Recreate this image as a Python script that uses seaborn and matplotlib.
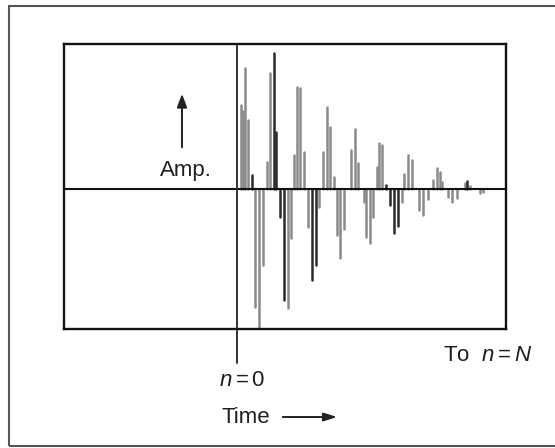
"""Decaying impulse response sketch (stem style)"""

import pandas as pd
import seaborn as sns
from matplotlib import pyplot as plt
from matplotlib.patches import Rectangle

# sample index (n) and amplitude of each stem
sample_n = [1.0, 1.5, 2.0, 2.75, 3.7, 4.5, 5.5, 6.4, 7.4, 8.25, 9.25, 9.75,
            10.75, 11.75, 12.7, 13.5, 14.25, 14.9, 15.75, 16.75, 17.75, 18.75,
            19.75, 20.5, 21.4, 22.4, 23.25, 24.25, 24.9, 25.75, 26.75, 28.4,
            29.5, 30.2, 31.7, 32.25, 33.2, 33.9, 34.9, 35.5, 36.25, 37.25,
            38.25, 39.25, 40.25, 41.2, 41.75, 42.7, 43.7, 45.5, 46.5, 47.75,
            48.9, 49.9, 50.75, 51.2, 52.75, 53.7, 54.9, 57.0, 57.5, 58.25,
            60.75, 61.5]
amplitude = [84, 78, 121, 69, 14, -118, -139, -76, 27, 116, 136, 57,
             -28, -111, -119, -49, 34, 102, 101, 37, -38, -91,
             -76, -18, 37, 82, 62, 12, -46, -69, -40, 39,
             60, 26, -13, -48, -54, -28, 22, 46, 44, 4,
             -16, -44, -37, -13, 15, 34, 29, -21, -26, -10,
             9, 21, 17, 7, -8, -13, -9, 6, 8, 3,
             -4, -3]
shade = ["grey", "grey", "grey", "grey", "black", "grey", "grey", "grey",
         "grey", "grey", "black", "black", "black", "black", "grey", "grey",
         "grey", "grey", "grey", "grey", "grey", "black", "black", "grey",
         "grey", "grey", "grey", "grey", "grey", "grey", "grey", "grey",
         "grey", "grey", "grey", "grey", "grey", "grey", "grey", "grey",
         "grey", "black", "black", "black", "black", "grey", "grey", "grey",
         "grey", "grey", "grey", "grey", "grey", "grey", "grey", "grey",
         "grey", "grey", "grey", "grey", "black", "grey", "grey", "grey"]

sns.set_style("white")
plt.rcParams["font.family"] = ["Liberation Sans", "DejaVu Sans"]
plt.rcParams["mathtext.fontset"] = "custom"
plt.rcParams["mathtext.rm"] = "Liberation Sans"
plt.rcParams["mathtext.it"] = "Liberation Sans:italic"

stems = pd.DataFrame({"n": sample_n, "amp": amplitude, "shade": shade})
stems["stem"] = range(len(stems))
# each stem is a two point line: from the zero line up/down to its amplitude
stem_lines = pd.concat([stems.assign(amp=0), stems]).sort_values("stem", kind="stable")

fig = plt.figure(figsize=(5.55, 4.48), dpi=100)
ax = fig.add_axes([64 / 555, 1 - 329 / 448, 442 / 555, 285 / 448])

sns.lineplot(data=stem_lines, x="n", y="amp", units="stem", estimator=None,
             hue="shade", palette={"grey": "#8a8a8a", "black": "#2a2a2a"},
             sort=False, linewidth=1.8, legend=False, ax=ax)

ax.set_xlim(-43.25, 67.25)
ax.set_ylim(-140, 145)
ax.axhline(0, color="#111111", lw=1.5)
# n = 0 marker, running past the bottom of the box
ax.plot([0, 0], [145, -174], color="#333333", lw=1.4, clip_on=False)

ax.set_xticks([])
ax.set_yticks([])
ax.set_xlabel("")
ax.set_ylabel("")
for spine in ax.spines.values():
    spine.set_visible(True)
    spine.set_color("#111111")
    spine.set_linewidth(1.7)

# outer frame of the figure
fig.add_artist(Rectangle((9 / 555, 2 / 448), 570 / 555, 440 / 448,
                         transform=fig.transFigure, fill=False,
                         edgecolor="#555555", lw=1.5, clip_on=False))

# annotations (figure pixel coordinates, origin bottom left)
H = 448
txt = dict(fontsize=16, color="#1e1e1e", transform=None)
fig.text(186, H - 170, "Amp.", ha="center", va="center", **txt)
ax.annotate("", xy=(182, H - 91), xytext=(182, H - 150),
            xycoords="figure pixels", textcoords="figure pixels",
            arrowprops=dict(arrowstyle="-|>,head_length=0.8,head_width=0.3",
                            color="#222222", lw=1.4))
fig.text(242, H - 380, r"$n = 0$", ha="center", va="center", **txt)
fig.text(443, H - 355, r"To  $n = N$", ha="left", va="center", **txt)
fig.text(222, H - 417, "Time", ha="left", va="center", **txt)
ax.annotate("", xy=(340, H - 417), xytext=(280, H - 417),
            xycoords="figure pixels", textcoords="figure pixels",
            arrowprops=dict(arrowstyle="-|>,head_length=0.8,head_width=0.25",
                            color="#222222", lw=1.4))

fig.savefig("out.png", dpi=100)
